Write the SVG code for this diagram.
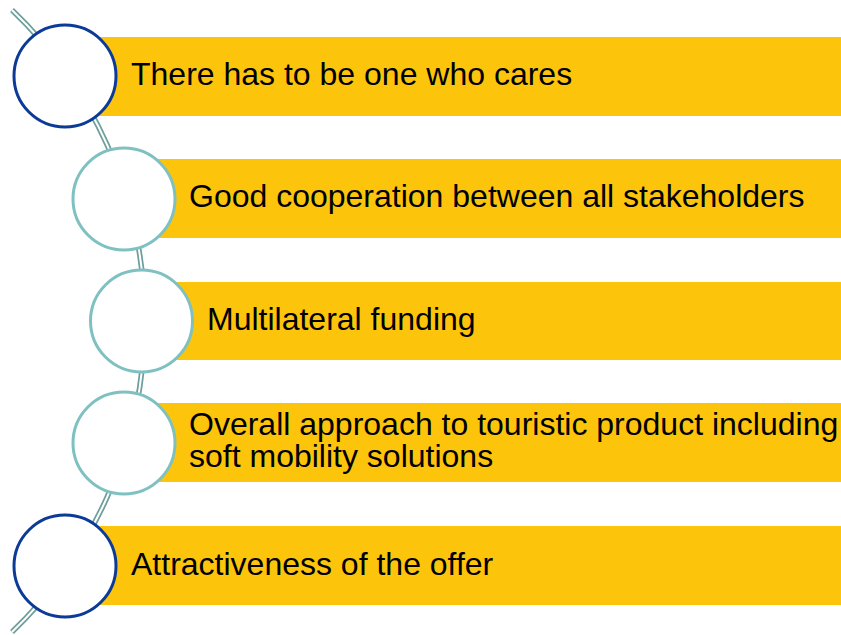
<svg xmlns="http://www.w3.org/2000/svg" width="841" height="635" viewBox="0 0 841 635">
<style>
.bar{fill:#FCC50B}
.t{font-family:"Liberation Sans",Arial,sans-serif;font-size:32px;fill:#000}
.cd{fill:#fff;stroke:#0B3A97;stroke-width:3}
.cl{fill:#fff;stroke:#7FC0C0;stroke-width:3}
.arcO{fill:none;stroke:#6E9F9C;stroke-width:5.5}
.arcI{fill:none;stroke:#fff;stroke-width:2}
</style>
<rect width="841" height="635" fill="#fff"/>
<g id="connectors">
<path class="arcO" d="M 12 10 A 430.6 430.6 0 0 1 12 632"/>
<path class="arcI" d="M 12 10 A 430.6 430.6 0 0 1 12 632"/>
</g>
<g id="node1">
<rect class="bar" x="65" y="37" width="776" height="79"/>
<circle class="cd" cx="65" cy="76" r="51"/>
<text class="t" x="131" y="85">There has to be one who cares</text>
</g>
<g id="node2">
<rect class="bar" x="124" y="159" width="717" height="79"/>
<circle class="cl" cx="124" cy="199" r="51"/>
<text class="t" x="189" y="207">Good cooperation between all stakeholders</text>
</g>
<g id="node3">
<rect class="bar" x="141" y="282" width="700" height="78"/>
<circle class="cl" cx="141.5" cy="321" r="51"/>
<text class="t" x="207" y="330">Multilateral funding</text>
</g>
<g id="node4">
<rect class="bar" x="124" y="403" width="717" height="79"/>
<circle class="cl" cx="124" cy="443" r="51"/>
<text class="t"><tspan x="189" y="435">Overall approach to touristic product including</tspan><tspan x="189" y="467">soft mobility solutions</tspan></text>
</g>
<g id="node5">
<rect class="bar" x="65" y="526" width="776" height="79"/>
<circle class="cd" cx="65" cy="566" r="51"/>
<text class="t" x="131" y="575">Attractiveness of the offer</text>
</g>
</svg>
